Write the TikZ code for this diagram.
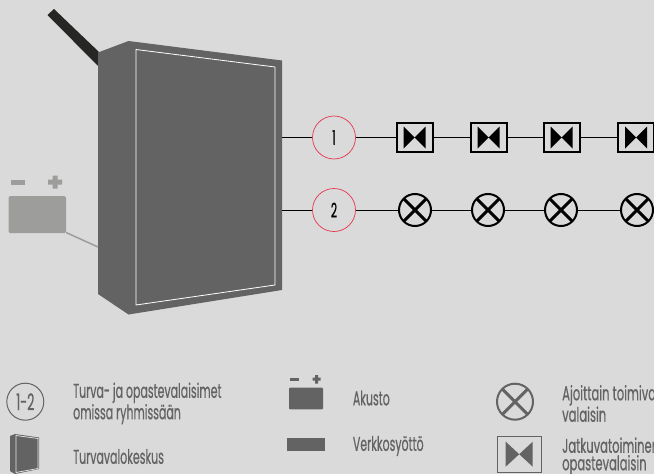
\documentclass[tikz,border=0pt]{standalone}
\usepackage{fontspec}
\setmainfont[FakeStretch=0.55,FakeBold=0.5]{Poppins}
\definecolor{taustaharmaa}{HTML}{DADADA}
\definecolor{keskus}{HTML}{636363}
\definecolor{akku}{HTML}{9D9D9C}
\definecolor{syotto}{HTML}{262624}
\definecolor{punainen}{HTML}{E6344A}
\tikzset{
  johto/.style={draw=black,line width=1pt},
  ryhma/.style={circle,draw=punainen,line width=0.7pt,minimum size=43pt,inner sep=0pt,font=\fontsize{20}{20}\selectfont},
  jatkuva/.style={rectangle,draw=#1,line width=2pt,minimum width=36pt,minimum height=29pt,inner sep=0pt,
    path picture={\fill[#1] ([xshift=-11pt,yshift=11pt]path picture bounding box.center) -- ([xshift=11pt,yshift=-11pt]path picture bounding box.center)
      -- ([xshift=11pt,yshift=11pt]path picture bounding box.center) -- ([xshift=-11pt,yshift=-11pt]path picture bounding box.center) -- cycle;}},
  ajoittain/.style={circle,draw=#1,line width=2pt,minimum size=32pt,inner sep=0pt,
    path picture={\draw[#1,line width=2.9pt] (path picture bounding box.north west) -- (path picture bounding box.south east)
      (path picture bounding box.north east) -- (path picture bounding box.south west);}},
  selite/.style={anchor=west,align=left,text=keskus,inner sep=0pt,font=\fontsize{20}{17.5}\selectfont},
}
\begin{document}
\begin{tikzpicture}[x=1pt,y=-1pt]
\useasboundingbox (0,0) rectangle (654,474);
\clip (0,0) rectangle (654,474);
\fill[taustaharmaa] (0,0) rectangle (654,474);
% verkkosyotto ja keskus
\fill[syotto] (47.5,15) -- (54,9) -- (99,52) -- (99,67) -- cycle;
\fill[keskus] (98,52.5) -- (128.5,41) -- (282,60.5) -- (282,290) -- (128.5,314.5) -- (98,294) -- cycle;
\draw[white,line width=0.8pt] (136,49.5) -- (275,67) -- (275,285) -- (136,305) -- cycle;
\coordinate (keskusA) at (282,137.5);
\coordinate (keskusB) at (282,210);
\coordinate (keskusC) at (98,247);
% akusto
\fill[akku,rounded corners=1.5pt] (8.5,196) rectangle (66,233);
\fill[akku] (11,179.5) rectangle (25,184.5);
\fill[akku] (48,179.5) rectangle (62,184.5) (52.5,175.5) rectangle (57.5,188.5);
\coordinate (akkuA) at (66,232.5);
\draw[akku,line width=1.5pt] (akkuA) -- (keskusC);
% ryhmat
\node[ryhma] (r1) at (334,137.5) {1};
\node[ryhma] (r2) at (334,210) {2};
\node[jatkuva=black] (j1) at (414.5,137.5) {};
\node[jatkuva=black] (j2) at (488.5,137.5) {};
\node[jatkuva=black] (j3) at (561.5,137.5) {};
\node[jatkuva=black] (j4) at (636,137.5) {};
\node[ajoittain=black] (a1) at (415,210) {};
\node[ajoittain=black] (a2) at (488,210) {};
\node[ajoittain=black] (a3) at (561,210) {};
\node[ajoittain=black] (a4) at (637,210) {};
\draw[johto] (keskusA) -- (r1) -- (j1) -- (j2) -- (j3) -- (j4);
\draw[johto] (keskusB) -- (r2) -- (a1) -- (a2) -- (a3) -- (a4);
% selitteet
\node[circle,draw=keskus,line width=1pt,minimum size=37pt,inner sep=0pt,text=keskus,font=\fontsize{23}{23}\selectfont] (s1) at (25.3,401.7) {1-2};
\node[selite] (t1) at (73,403.5) {Turva- ja opastevalaisimet\\omissa ryhmissään};
\fill[keskus] (10,436) -- (15,434) -- (39,437.5) -- (39,469) -- (15,474) -- (10,471) -- cycle;
\draw[white!85!keskus,line width=0.7pt] (16,435.5) -- (38,438.5) -- (38,468.5) -- (16,472.5) -- cycle;
\node[selite] (t2) at (73,456.5) {Turvavalokeskus};
\fill[keskus,rounded corners=1pt] (289,387.7) rectangle (323,409.3);
\fill[keskus] (290,377.7) rectangle (298.7,380.7);
\fill[keskus] (312.5,377.7) rectangle (320.5,380.7) (315,375) rectangle (318,383.5);
\node[selite] (t3) at (352.7,398) {Akusto};
\fill[keskus] (286.7,437.7) rectangle (324.7,451);
\node[selite] (t4) at (352.7,446) {Verkkosyöttö};
\node[ajoittain=keskus,minimum size=36pt] (s5) at (515,401.7) {};
\node[selite,transform shape,xscale=1.05] (t5) at (562,403.5) {Ajoittain toimiva\\valaisin};
\node[rectangle,draw=keskus,line width=1pt,minimum width=44pt,minimum height=36pt,inner sep=0pt] (s6) at (519,454) {};
\fill[keskus] (505.7,441.7) -- (532.7,466.7) -- (532.7,441.7) -- (505.7,466.7) -- cycle;
\node[selite,transform shape,xscale=1.05] (t6) at (562,456.5) {Jatkuvatoiminen\\opastevalaisin};
\end{tikzpicture}
\end{document}
